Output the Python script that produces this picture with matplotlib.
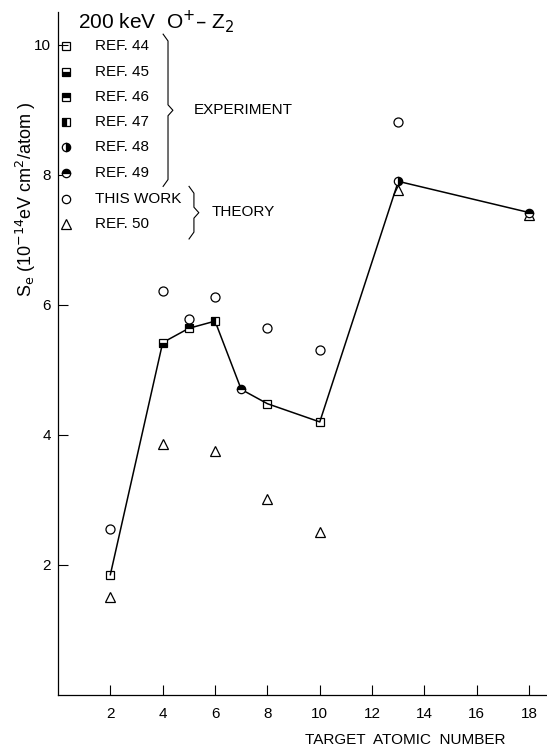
import numpy as np
import matplotlib.pyplot as plt

plt.rcParams['font.family'] = ['Liberation Sans', 'DejaVu Sans']

# experimental stopping (joined by the line), marker style per reference
z_exp = [2, 4, 5, 6, 7, 8, 10, 13, 18]
se_exp = [1.85, 5.42, 5.64, 5.75, 4.70, 4.48, 4.20, 7.90, 7.42]
ref_exp = ['44', '45', '46', '47', '49', '44', '44', '48', '49']

# theory: this work (circles) and ref. 50 (triangles)
z_this = [2, 4, 5, 6, 8, 10, 13]
se_this = [2.55, 6.21, 5.78, 6.12, 5.64, 5.31, 8.82]
z_r50 = [2, 4, 6, 8, 10, 13, 18]
se_r50 = [1.51, 3.86, 3.75, 3.01, 2.50, 7.76, 7.38]

refs = ['44', '45', '46', '47', '48', '49']
ref_style = {
    '44': dict(marker='s', fillstyle='none'),
    '45': dict(marker='s', fillstyle='bottom'),
    '46': dict(marker='s', fillstyle='top'),
    '47': dict(marker='s', fillstyle='left'),
    '48': dict(marker='o', fillstyle='right'),
    '49': dict(marker='o', fillstyle='top'),
}

fig = plt.figure(figsize=(5.47, 7.51), dpi=100)
ax = fig.add_axes([0.106, 0.0746, 0.894, 0.909])

ms = 6
mkw = dict(color='k', markerfacecoloralt='white', markeredgewidth=0.9, linestyle='none')

ax.plot(z_r50, se_r50, marker='^', fillstyle='none', ms=7, **mkw)
ax.plot(z_this, se_this, marker='o', fillstyle='none', ms=6.5, **mkw)
ax.plot(z_exp, se_exp, color='k', lw=1.1, zorder=2)
for z, s, r in zip(z_exp, se_exp, ref_exp):
    ax.plot(z, s, ms=ms, zorder=3, **ref_style[r], **mkw)

ax.set_xlim(0, 18.68)
ax.set_ylim(0, 10.5)
ax.set_xticks(np.arange(2, 19, 2))
ax.set_yticks([2, 4, 6, 8, 10])
ax.tick_params(direction='in', length=7, width=0.8, labelsize=11)
ax.tick_params(axis='x', pad=9)
ax.tick_params(axis='y', pad=5)
for side in ['top', 'right']:
    ax.spines[side].set_visible(False)
for side in ['left', 'bottom']:
    ax.spines[side].set_linewidth(0.9)

fig.text(0.047, 0.735, r'S$_{\rm e}$ (10$^{-14}$eV cm$^2$/atom )', rotation=90,
         ha='center', va='center', fontsize=13)
fig.text(0.74, 0.014, 'TARGET  ATOMIC  NUMBER', ha='center', va='center', fontsize=11)

# legend drawn by hand in axes coordinates
tr = ax.transAxes
ax.text(0.04, 0.986, r'200 keV  O$^{+}$– Z$_2$', transform=tr, fontsize=15,
        ha='left', va='center')
ys = np.linspace(0.950, 0.765, 6)
for y, r in zip(ys, refs):
    ax.plot(0.017, y, transform=tr, ms=6, clip_on=False, **ref_style[r], **mkw)
    ax.text(0.075, y, 'REF. ' + r, transform=tr, fontsize=11, va='center')
ax.plot(0.017, 0.726, transform=tr, marker='o', fillstyle='none', ms=6, clip_on=False, **mkw)
ax.text(0.075, 0.726, 'THIS WORK', transform=tr, fontsize=11, va='center')
ax.plot(0.017, 0.690, transform=tr, marker='^', fillstyle='none', ms=6.5, clip_on=False, **mkw)
ax.text(0.075, 0.690, 'REF. 50', transform=tr, fontsize=11, va='center')


def brace(x, y0, y1, w=0.01):
    ym = (y0 + y1) / 2
    xs = [x, x + w, x + w, x + 2 * w, x + w, x + w, x]
    yv = [y1, y1 - 0.01, ym + 0.008, ym, ym - 0.008, y0 + 0.01, y0]
    ax.plot(xs, yv, transform=tr, color='k', lw=0.8)


brace(0.215, 0.745, 0.968)
ax.text(0.277, 0.857, 'EXPERIMENT', transform=tr, fontsize=11, va='center')
brace(0.268, 0.668, 0.745)
ax.text(0.315, 0.707, 'THEORY', transform=tr, fontsize=11, va='center')

fig.savefig('out.png', dpi=100)
